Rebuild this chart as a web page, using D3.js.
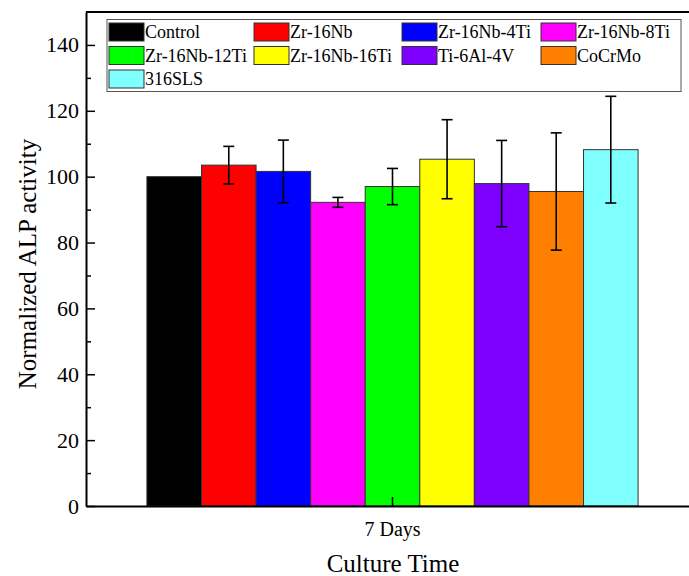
<!DOCTYPE html>
<html>
<head>
<meta charset="utf-8">
<script src="https://cdn.jsdelivr.net/npm/d3@7"></script>
<style>
  body { margin: 0; background: #fff; }
  svg { display: block; font-family: "Liberation Serif", "Times New Roman", serif; }
</style>
</head>
<body>
<svg id="chart" width="689" height="576"></svg>
<script>
// data
const days = ["7 Days"];
const series = ["Control", "Zr-16Nb", "Zr-16Nb-4Ti", "Zr-16Nb-8Ti", "Zr-16Nb-12Ti",
                "Zr-16Nb-16Ti", "Ti-6Al-4V", "CoCrMo", "316SLS"];
const means = [100, 103.5, 101.6, 92.2, 97.0, 105.3, 97.9, 95.5, 108.2];
const errs = [0, 5.7, 9.5, 1.5, 5.5, 12.0, 13.1, 17.8, 16.2];
const colors = ["#000000", "#ff0000", "#0000ff", "#ff00ff", "#00ff00",
                "#ffff00", "#8000ff", "#ff8000", "#80ffff"];
const yTicks = [0, 20, 40, 60, 80, 100, 120, 140];
const yMinor = [10, 30, 50, 70, 90, 110, 130];

const svg = d3.select("#chart");
const margin = { top: 12, left: 86, bottom: 70 },
    plotRight = 699,
    plotBottom = +svg.attr("height") - margin.bottom;

const y = d3.scaleLinear().domain([0, 150]).range([plotBottom, margin.top]);
const x0 = d3.scaleBand().domain(days).range([margin.left, plotRight])
    .paddingInner(0).paddingOuter(0.124);
const x1 = d3.scaleBand().domain(series).range([0, x0.bandwidth()]);
const color = d3.scaleOrdinal().domain(series).range(colors);

const rows = series.map((s, i) => ({ name: s, day: days[0], v: means[i], e: errs[i] }));

// bars
const bars = svg.append("g");
bars.selectAll("rect")
    .data(rows)
    .enter()
    .append("rect")
    .attr("x", d => x0(d.day) + x1(d.name))
    .attr("y", d => y(d.v))
    .attr("width", x1.bandwidth())
    .attr("height", d => y(0) - y(d.v))
    .attr("fill", d => color(d.name))
    .attr("stroke", "#333")
    .attr("stroke-width", 1);

// error bars
const eb = svg.append("g").attr("stroke", "#000").attr("stroke-width", 1.6);
rows.filter(d => d.e > 0).forEach(d => {
    let cx = x0(d.day) + x1(d.name) + x1.bandwidth() / 2;
    eb.append("line").attr("x1", cx).attr("x2", cx).attr("y1", y(d.v - d.e)).attr("y2", y(d.v + d.e));
    [d.v - d.e, d.v + d.e].forEach(v => {
        eb.append("line").attr("x1", cx - 5.5).attr("x2", cx + 5.5).attr("y1", y(v)).attr("y2", y(v));
    });
});

// axes
const yAxis = svg.append("g").attr("transform", "translate(" + margin.left + ",0)")
    .call(d3.axisLeft(y).tickValues(yTicks).tickSizeInner(-9).tickSizeOuter(0).tickPadding(7));
svg.append("g").attr("transform", "translate(" + margin.left + ",0)")
    .call(d3.axisLeft(y).tickValues(yMinor).tickSizeInner(-5).tickSizeOuter(0).tickFormat(""))
    .call(g => g.select(".domain").remove());
const xAxis = svg.append("g").attr("transform", "translate(0," + plotBottom + ")")
    .call(d3.axisBottom(x0).tickSizeInner(-9).tickSizeOuter(0).tickPadding(16));

[yAxis, xAxis].forEach(g => {
    g.attr("font-family", "'Liberation Serif', 'Times New Roman', serif").attr("font-size", 20);
    g.select(".domain").attr("stroke-width", 2);
    g.selectAll("text").attr("fill", "#000");
});
yAxis.attr("font-size", 22);
svg.selectAll(".tick line").attr("stroke-width", 1.5);

// top frame line
svg.append("line")
    .attr("x1", margin.left).attr("x2", plotRight)
    .attr("y1", y(150)).attr("y2", y(150))
    .attr("stroke", "#000").attr("stroke-width", 2);

// axis titles
svg.append("text")
    .attr("x", 393).attr("y", 572)
    .attr("text-anchor", "middle").attr("font-size", 25)
    .text("Culture Time");
svg.append("text")
    .attr("transform", "translate(36,264) rotate(-90)")
    .attr("text-anchor", "middle").attr("font-size", 25)
    .text("Normalized ALP activity");

// legend
const legCols = [109, 254, 402, 541];
const legend = svg.append("g");
legend.append("rect")
    .attr("x", 107).attr("y", 19.5).attr("width", 574).attr("height", 72)
    .attr("fill", "#fff").attr("stroke", "#555").attr("stroke-width", 1);
series.forEach((s, i) => {
    let lx = legCols[i % 4], ly = 32 + Math.floor(i / 4) * 23.5;
    legend.append("rect")
        .attr("x", lx).attr("y", ly - 9).attr("width", 35).attr("height", 18)
        .attr("fill", color(s)).attr("stroke", "#333").attr("stroke-width", 1);
    legend.append("text")
        .attr("x", lx + 36).attr("y", ly + 6)
        .attr("font-size", 18)
        .text(s);
});
</script>
</body>
</html>
